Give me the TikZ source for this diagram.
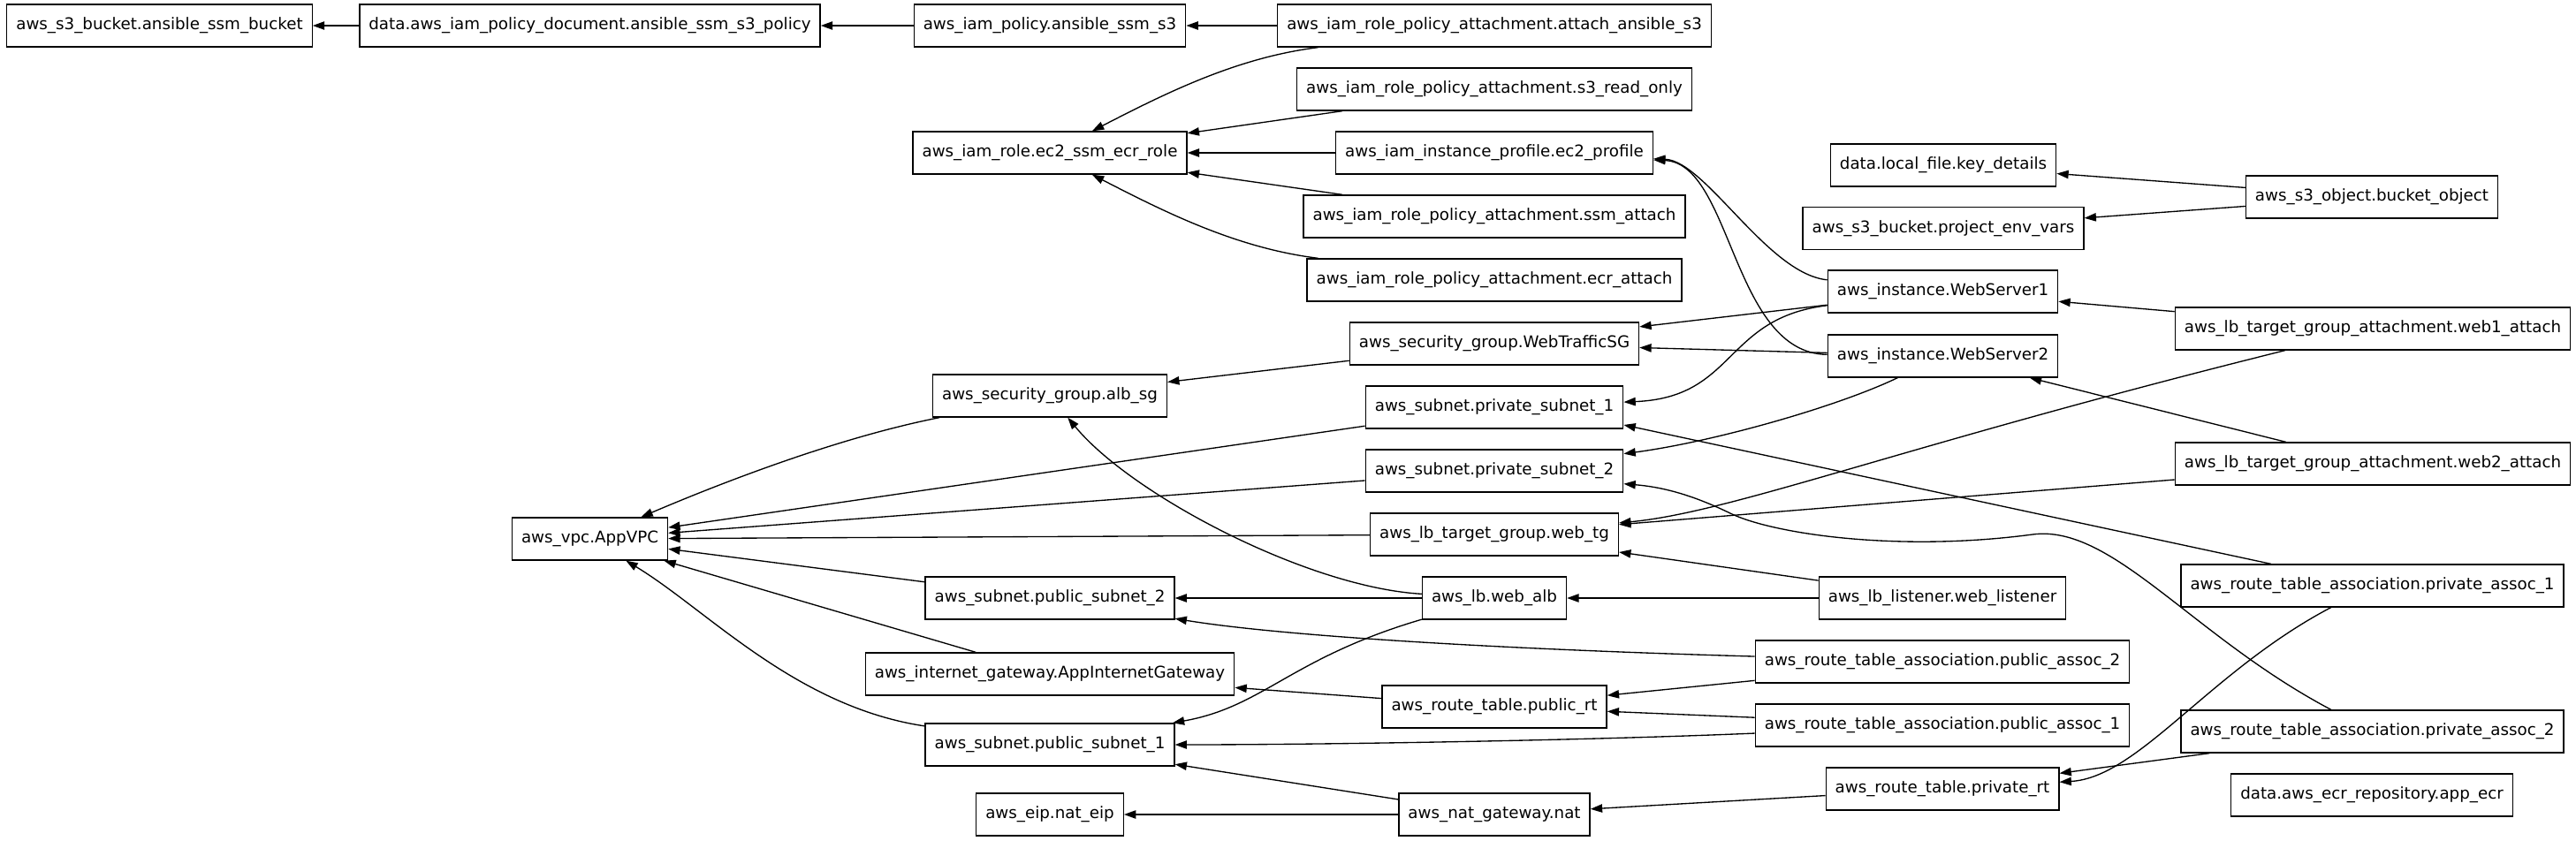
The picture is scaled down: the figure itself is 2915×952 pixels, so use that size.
\documentclass[tikz,border=0pt]{standalone}
\usepackage{fontspec}
\setmainfont{DejaVu Sans}
\usetikzlibrary{arrows.meta}
\begin{document}
\begin{tikzpicture}[x=0.75pt,y=-0.75pt,line width=1pt,
  every node/.style={draw,rectangle,minimum height=36pt,inner xsep=7.9pt,
    font=\fontsize{13.7pt}{16pt}\selectfont},
  >={Triangle[length=10pt,width=7pt]}]
\useasboundingbox (0,0) rectangle (2915,952);
\node(bucket) at (180.5,29) {aws\_s3\_bucket.ansible\_ssm\_bucket};
%
\node(poldoc) at (667.5,29) {data.aws\_iam\_policy\_document.ansible\_ssm\_s3\_policy};
\draw[->](poldoc) -- (bucket) {};
%
\node(iampol) at (1188,29) {aws\_iam\_policy.ansible\_ssm\_s3};
\draw[->](iampol) -- (poldoc) {};
%
\node(role) at (1188,173) {aws\_iam\_role.ec2\_ssm\_ecr\_role};
%
\node(attachs3) at (1691,29) {aws\_iam\_role\_policy\_attachment.attach\_ansible\_s3};
\draw[->](attachs3) -- (iampol) {};
\draw[->](attachs3) .. controls (1400,65) and (1320,105) .. (role) {};
%
\node(readonly) at (1691,101) {aws\_iam\_role\_policy\_attachment.s3\_read\_only};
\draw[->](readonly) -- (role) {};
%
\node(profile) at (1691,173) {aws\_iam\_instance\_profile.ec2\_profile};
\draw[->](profile) -- (role) {};
%
\node(ssmatt) at (1691,245) {aws\_iam\_role\_policy\_attachment.ssm\_attach};
\draw[->](ssmatt) -- (role) {};
%
\node(ecratt) at (1691,317) {aws\_iam\_role\_policy\_attachment.ecr\_attach};
\draw[->](ecratt) .. controls (1400,281) and (1320,241) .. (role) {};
%
\node(keydet) at (2199,187) {data.local\_file.key\_details};
\node(envvars) at (2199,258.5) {aws\_s3\_bucket.project\_env\_vars};
\node(bucketobj) at (2684,223) {aws\_s3\_object.bucket\_object};
\draw[->](bucketobj) -- (keydet) {};
\draw[->](bucketobj) -- (envvars) {};
%
\node(vpc) at (667.5,610) {aws\_vpc.AppVPC};
%
\node(albsg) at (1188,448) {aws\_security\_group.alb\_sg};
\draw[->](albsg) .. controls (950,495) and (820,545) .. (vpc) {};
%
\node(websg) at (1691,389) {aws\_security\_group.WebTrafficSG};
\draw[->](websg) -- (albsg) {};
%
\node(priv1) at (1691,461) {aws\_subnet.private\_subnet\_1};
\draw[->](priv1) -- (vpc) {};
%
\node(priv2) at (1691,533) {aws\_subnet.private\_subnet\_2};
\draw[->](priv2) -- (vpc) {};
%
\node(webtg) at (1691,605) {aws\_lb\_target\_group.web\_tg};
\draw[->](webtg) -- (vpc) {};
%
\node(pub2) at (1188,677) {aws\_subnet.public\_subnet\_2};
\draw[->](pub2) -- (vpc) {};
%
\node(igw) at (1188,763) {aws\_internet\_gateway.AppInternetGateway};
\draw[->](igw) -- (vpc) {};
%
\node(pub1) at (1188,843) {aws\_subnet.public\_subnet\_1};
\draw[->](pub1) .. controls (900,800) and (800,690) .. (vpc) {};
%
\node(eip) at (1188,922) {aws\_eip.nat\_eip};
%
\node(alb) at (1691,677) {aws\_lb.web\_alb};
\draw[->](alb) .. controls (1480,665) and (1280,560) .. (albsg) {};
\draw[->](alb) -- (pub2) {};
\draw[->](alb) .. controls (1460,745) and (1430,800) .. (pub1) {};
%
\node(pubrt) at (1691,800) {aws\_route\_table.public\_rt};
\draw[->](pubrt) -- (igw) {};
%
\node(nat) at (1691,922) {aws\_nat\_gateway.nat};
\draw[->](nat) -- (pub1) {};
\draw[->](nat) -- (eip) {};
%
\node(ws1) at (2198.5,330) {aws\_instance.WebServer1};
\draw[->](ws1) .. controls (2000,310) and (1930,182) .. (profile) {};
\draw[->](ws1) -- (websg) {};
\draw[->](ws1) .. controls (1950,360) and (1965,450) .. (priv1) {};
%
\node(ws2) at (2198.5,403) {aws\_instance.WebServer2};
\draw[->](ws2) .. controls (1960,400) and (1960,185) .. (profile) {};
\draw[->](ws2) -- (websg) {};
\draw[->](ws2) .. controls (2080,460) and (1940,500) .. (priv2) {};
%
\node(listener) at (2198,677) {aws\_lb\_listener.web\_listener};
\draw[->](listener) -- (alb) {};
\draw[->](listener) -- (webtg) {};
%
\node(pubassoc2) at (2198,749) {aws\_route\_table\_association.public\_assoc\_2};
\draw[->](pubassoc2) .. controls (1700,735) and (1450,720) .. (pub2) {};
\draw[->](pubassoc2) -- (pubrt) {};
%
\node(pubassoc1) at (2198,821) {aws\_route\_table\_association.public\_assoc\_1};
\draw[->](pubassoc1) -- (pubrt) {};
\draw[->](pubassoc1) .. controls (1800,838) and (1500,843) .. (pub1) {};
%
\node(privrt) at (2198,893) {aws\_route\_table.private\_rt};
\draw[->](privrt) -- (nat) {};
%
\node(web1att) at (2685,372) {aws\_lb\_target\_group\_attachment.web1\_attach};
\draw[->](web1att) -- (ws1) {};
\draw[->](web1att) .. controls (2150,505) and (1960,580) .. (webtg) {};
%
\node(web2att) at (2685,525) {aws\_lb\_target\_group\_attachment.web2\_attach};
\draw[->](web2att) -- (ws2) {};
\draw[->](web2att) -- (webtg) {};
%
\node(privassoc1) at (2684.5,663) {aws\_route\_table\_association.private\_assoc\_1};
\draw[->](privassoc1) -- ([yshift=-15pt]priv1.east) {};
\draw[->](privassoc1) .. controls (2500,760) and (2420,880) .. (privrt) {};
%
\node(privassoc2) at (2684.5,828) {aws\_route\_table\_association.private\_assoc\_2};
\draw[->](privassoc2) .. controls (2480,720) and (2390,593) .. (2300,605)
  .. controls (2150,625) and (2010,605) .. (1960,582)
  .. controls (1925,565) and (1890,552) .. ([yshift=-11pt]priv2.east) {};
\draw[->](privassoc2) -- (privrt) {};
%
\node(ecr) at (2684,900) {data.aws\_ecr\_repository.app\_ecr};
\end{tikzpicture}
\end{document}
